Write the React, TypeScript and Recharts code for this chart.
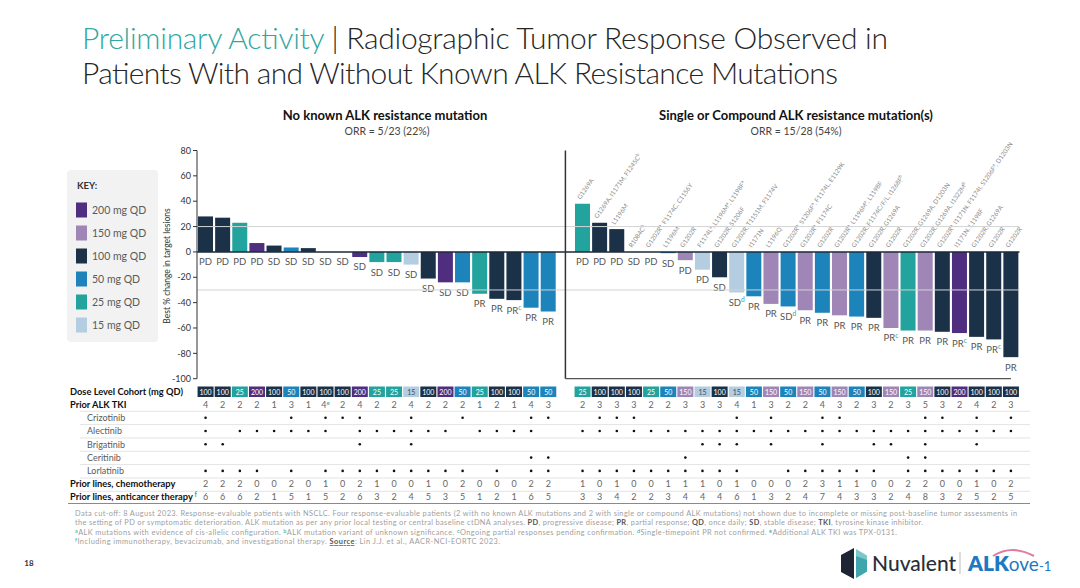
import React from "react";
import { BarChart, Bar, XAxis, YAxis, ReferenceLine, Cell } from "recharts";

if (typeof document !== "undefined") document.body.style.margin = "0";

const FONT = "Lato, 'Open Sans', sans-serif";
const TEAL = "#2fa7a2";

const doseColors: Record<number, string> = {
  200: "#4f2e80",
  150: "#a086b7",
  100: "#1b3148",
  50: "#1d83bb",
  25: "#22a39d",
  15: "#b5cde0",
};
const keyDoses = [200, 150, 100, 50, 25, 15];
const yTicks = [80, 60, 40, 20, 0, -20, -40, -60, -80, -100];
const drugNames = ["Crizotinib", "Alectinib", "Brigatinib", "Ceritinib", "Lorlatinib"];

// No known ALK resistance mutation
const leftChange = [28, 27, 23, 7, 5, 3.5, 3, 0, 0, -4, -8, -8, -10, -21, -24, -24, -33, -37, -38, -44, -47];
const leftResponse = ["PD", "PD", "PD", "PD", "SD", "SD", "SD", "SD", "SD", "SD", "SD", "SD", "SD", "SD", "SD", "SD", "PR", "PR", "PR^c", "PR", "PR"];
const leftDose = [100, 100, 25, 200, 100, 50, 100, 100, 100, 200, 25, 25, 15, 100, 200, 50, 25, 100, 100, 50, 50];
const leftPriorTki = ["4", "2", "2", "2", "1", "3", "1", "4^e", "2", "4", "2", "2", "4", "2", "2", "2", "1", "2", "1", "4", "3"];
const leftChemo = [2, 2, 2, 0, 0, 2, 0, 1, 0, 2, 1, 0, 0, 1, 0, 2, 0, 0, 0, 2, 2];
const leftAnticancer = [6, 6, 6, 2, 1, 5, 1, 5, 2, 6, 3, 2, 4, 5, 3, 5, 1, 2, 1, 6, 5];
// column indexes with a prior-TKI dot
const leftCrizotinib = [0, 5, 7, 8, 9, 12, 15, 19, 20];
const leftAlectinib = [0, 2, 3, 4, 5, 6, 7, 9, 10, 11, 12, 13, 14, 16, 17, 18, 19];
const leftBrigatinib = [0, 1, 9, 12];
const leftCeritinib = [19, 20];
const leftLorlatinib = [0, 1, 2, 3, 5, 7, 8, 9, 10, 11, 12, 13, 14, 15, 17, 19, 20];

// Single or compound ALK resistance mutation(s)
const rightChange = [38, 23, 18, 0, 0, -1, -6.5, -14, -20, -32, -35, -41, -43, -46, -48, -50, -51, -52, -60, -62, -62, -63, -64, -67, -69, -83];
const rightResponse = ["PD", "PD", "PD", "SD", "PD", "SD", "PD", "PD", "SD", "SD^d", "PR", "PR", "SD^d", "PR", "PR", "PR", "PR", "PR", "PR^c", "PR", "PR", "PR", "PR^c", "PR", "PR^c", "PR"];
const rightMutation = [
  "G1269A",
  "G1269A, I1171M, F1245C^b",
  "L1196M",
  "R1084C^b",
  "G1202R^a, F1174C, C1156Y",
  "L1196M",
  "G1202R",
  "F1174L^a, L1196M^a, L1198F^a",
  "G1202R, S1206F",
  "G1202R, T1151M, F1174V",
  "I1171N",
  "L1196Q",
  "G1202R^a, S1206F^a, F1174L, E1129K",
  "G1202R^a, F1174C",
  "G1202R",
  "G1202R^a, L1196M^a, L1198F",
  "G1202R, F1174C/F/L, I1268F^b",
  "G1202R, G1269A",
  "G1202R",
  "G1202R, G1269A, D1203N",
  "G1202R, G1269A, I1322M^b",
  "G1202R^a, I1171N, F1174I, S1206F^a, D1203N",
  "I1171N, L1198F",
  "G1202R, G1269A",
  "G1202R",
  "G1202R",
];
const rightDose = [25, 100, 100, 100, 25, 50, 150, 15, 100, 15, 50, 150, 50, 150, 50, 150, 50, 100, 150, 25, 150, 100, 200, 100, 100, 100];
const rightPriorTki = ["2", "3", "3", "3", "2", "2", "3", "3", "3", "4", "1", "3", "2", "2", "4", "3", "2", "3", "2", "3", "5", "3", "2", "4", "2", "3"];
const rightChemo = [1, 0, 1, 0, 0, 1, 1, 1, 0, 1, 0, 0, 0, 2, 3, 1, 1, 0, 0, 2, 2, 0, 0, 1, 0, 2];
const rightAnticancer = [3, 3, 4, 2, 2, 3, 4, 4, 4, 6, 1, 3, 2, 4, 7, 4, 3, 3, 2, 4, 8, 3, 2, 5, 2, 5];
const rightCrizotinib = [1, 2, 3, 9, 11, 14, 15, 20, 21, 23, 25];
const rightAlectinib = [0, 1, 2, 3, 4, 5, 6, 7, 8, 9, 10, 11, 12, 13, 14, 15, 16, 17, 18, 19, 20, 21, 22, 23, 24, 25];
const rightBrigatinib = [7, 8, 9, 11, 14, 17, 18, 20, 23];
const rightCeritinib = [6, 19, 20];
const rightLorlatinib = [0, 1, 2, 3, 4, 5, 6, 7, 8, 9, 12, 13, 14, 15, 16, 17, 19, 20, 21, 22, 23, 24, 25];

type Row = {
  id: string;
  value: number;
  dose: number;
  resp: string;
  mut: string;
  tki: string;
  chemo: number;
  anti: number;
  drugs: boolean[];
  gap?: boolean;
};

const leftDrugs = [leftCrizotinib, leftAlectinib, leftBrigatinib, leftCeritinib, leftLorlatinib];
const rightDrugs = [rightCrizotinib, rightAlectinib, rightBrigatinib, rightCeritinib, rightLorlatinib];

const data: Row[] = [
  ...leftChange.map((v, i) => ({
    id: `L${i + 1}`,
    value: v,
    dose: leftDose[i],
    resp: leftResponse[i],
    mut: "",
    tki: leftPriorTki[i],
    chemo: leftChemo[i],
    anti: leftAnticancer[i],
    drugs: leftDrugs.map((l) => l.includes(i)),
  })),
  { id: "gap", value: 0, dose: 0, resp: "", mut: "", tki: "", chemo: 0, anti: 0, drugs: [], gap: true },
  ...rightChange.map((v, i) => ({
    id: `R${i + 1}`,
    value: v,
    dose: rightDose[i],
    resp: rightResponse[i],
    mut: rightMutation[i],
    tki: rightPriorTki[i],
    chemo: rightChemo[i],
    anti: rightAnticancer[i],
    drugs: rightDrugs.map((l) => l.includes(i)),
  })),
];
const byId: Record<string, Row> = Object.fromEntries(data.map((d) => [d.id, d]));
const lastId = data[data.length - 1].id;

// "PR^c" -> PR with superscript c
function withSup(s: string, size: number, supFill: string) {
  const parts = s.split(/\^([a-z])/);
  const out: React.ReactNode[] = [];
  let raised = false;
  parts.forEach((p, i) => {
    if (i % 2 === 1) {
      out.push(
        <tspan key={i} dy={-size * 0.4} fontSize={size * 0.7} fill={supFill}>
          {p}
        </tspan>
      );
      raised = true;
    } else if (p) {
      out.push(
        <tspan key={i} dy={raised ? size * 0.4 : 0}>
          {p}
        </tspan>
      );
      raised = false;
    }
  });
  return out;
}

const BarShape = (props: any) => {
  const { x, y, width, height, fill, index } = props;
  const d: Row = props.payload && props.payload.id ? props.payload : data[index];
  if (!d || d.gap) return <g />;
  const top = Math.min(y, y + height);
  const bottom = Math.max(y, y + height);
  const cx = x + width / 2;
  return (
    <g>
      {bottom - top > 0 && <rect x={x} y={top} width={width} height={bottom - top} fill={fill} />}
      <text x={cx} y={bottom + 13.5} textAnchor="middle" fontSize={9.5} fill="#555" fontFamily={FONT}>
        {withSup(d.resp, 9.5, TEAL)}
      </text>
      {d.mut && (
        <text
          transform={`translate(${cx - 2},${top - 4}) rotate(-55)`}
          fontSize={6.3}
          fill="#8a8a8a"
          fontFamily={FONT}
        >
          {withSup(d.mut, 6.3, "#8a8a8a")}
        </text>
      )}
    </g>
  );
};

const TableTick = (props: any) => {
  const { x, y, payload } = props;
  const d = byId[payload?.value];
  if (!d || d.gap) return <g />;
  const light = d.dose === 15;
  return (
    <g fontFamily={FONT}>
      <rect x={x - 8} y={y + 7.8} width={16} height={10.5} fill={doseColors[d.dose]} />
      <text x={x} y={y + 15.8} textAnchor="middle" fontSize={7} fill={light ? "#3d4d5c" : "#fff"}>
        {d.dose}
      </text>
      <text x={x} y={y + 29.6} textAnchor="middle" fontSize={9} fill="#666">
        {withSup(d.tki, 9, TEAL)}
      </text>
      {d.drugs.map((on, k) =>
        on ? <circle key={k} cx={x} cy={y + 39 + 13.3 * k} r={1.3} fill="#111" /> : null
      )}
      <text x={x} y={y + 108.6} textAnchor="middle" fontSize={9} fill="#666">
        {d.chemo}
      </text>
      <text x={x} y={y + 121.6} textAnchor="middle" fontSize={9} fill="#666">
        {d.anti}
      </text>
    </g>
  );
};

const rowLineYs = [411.3, 424.6, 438, 451.3, 464.6, 478, 491.3];

function Slide() {
  return (
    <svg width={1080} height={588} style={{ position: "absolute", left: 0, top: 0 }} fontFamily={FONT}>
      <rect x={0} y={0} width={1080} height={588} fill="#fff" />
      {/* title */}
      <text x={82} y={49} fontSize={30} fontWeight={300} textLength={806} lengthAdjust="spacing">
        <tspan fill={TEAL}>Preliminary Activity</tspan>
        <tspan fill="#262626"> | Radiographic Tumor Response Observed in</tspan>
      </text>
      <text x={82} y={84} fontSize={30} fontWeight={300} fill="#262626" textLength={756} lengthAdjust="spacing">
        Patients With and Without Known ALK Resistance Mutations
      </text>

      {/* panel headings */}
      <text x={385} y={119.5} textAnchor="middle" fontSize={13} fontWeight={700} fill="#111">
        No known ALK resistance mutation
      </text>
      <text x={387} y={135} textAnchor="middle" fontSize={10.5} fill="#444">
        ORR = 5/23 (22%)
      </text>
      <text x={796} y={119.5} textAnchor="middle" fontSize={13} fontWeight={700} fill="#111">
        Single or Compound ALK resistance mutation(s)
      </text>
      <text x={796} y={135} textAnchor="middle" fontSize={10.5} fill="#444">
        ORR = 15/28 (54%)
      </text>

      {/* key */}
      <rect x={67} y={170} width={91} height={172} rx={4} fill="#f2f2f2" />
      <text x={77} y={189} fontSize={9.5} fontWeight={700} fill="#333">
        KEY:
      </text>
      {keyDoses.map((d, k) => (
        <g key={d}>
          <rect x={76} y={202.5 + 23 * k} width={11} height={15} fill={doseColors[d]} />
          <text x={92} y={213.5 + 23 * k} fontSize={10.5} fill="#5a5a5a">
            {d} mg QD
          </text>
        </g>
      ))}

      {/* y axis title */}
      <text transform="translate(170,266) rotate(-90)" textAnchor="middle" fontSize={8.5} fill="#333">
        Best % change in target lesions
      </text>

      {/* table row labels */}
      {rowLineYs.map((ly) => (
        <line key={ly} x1={80} x2={1030} y1={ly} y2={ly} stroke="#dcdcdc" strokeWidth={0.8} />
      ))}
      <line x1={68} x2={1030} y1={503.5} y2={503.5} stroke="#8a8a8a" strokeWidth={1.2} />
      <text x={70} y={394.8} fontSize={9.3} fontWeight={700} fill="#111">
        Dose Level Cohort (mg QD)
      </text>
      <text x={70} y={408.2} fontSize={9.3} fontWeight={700} fill="#111">
        Prior ALK TKI
      </text>
      {drugNames.map((n, k) => (
        <text key={n} x={87} y={420.9 + 13.3 * k} fontSize={9} fill="#5a5a5a">
          {n}
        </text>
      ))}
      <text x={70} y={487.2} fontSize={9.3} fontWeight={700} fill="#111">
        Prior lines, chemotherapy
      </text>
      <text x={70} y={500.3} fontSize={9.3} fontWeight={700} fill="#111">
        Prior lines, anticancer therapy
        <tspan dy={-3.5} fontSize={6.5} fill={TEAL}>
          {" f"}
        </tspan>
      </text>

      {/* footnotes */}
      <g fontSize={7.4} fill="#a0a0a0">
        <text x={75} y={515.5} textLength={942} lengthAdjust="spacing">
          Data cut-off: 8 August 2023. Response-evaluable patients with NSCLC. Four response-evaluable patients (2 with no known ALK mutations and 2 with single or compound ALK mutations) not shown due to incomplete or missing post-baseline tumor assessments in
        </text>
        <text x={75} y={525} textLength={848} lengthAdjust="spacing">
          the setting of PD or symptomatic deterioration. ALK mutation as per any prior local testing or central baseline ctDNA analyses.{" "}
          <tspan fontWeight={700} fill="#555">PD</tspan>, progressive disease;{" "}
          <tspan fontWeight={700} fill="#555">PR</tspan>, partial response;{" "}
          <tspan fontWeight={700} fill="#555">QD</tspan>, once daily;{" "}
          <tspan fontWeight={700} fill="#555">SD</tspan>, stable disease;{" "}
          <tspan fontWeight={700} fill="#555">TKI</tspan>, tyrosine kinase inhibitor.
        </text>
        <text x={75} y={534.5} textLength={822} lengthAdjust="spacing">
          <tspan fill={TEAL} fontSize={5.5} dy={-2}>a</tspan>
          <tspan dy={2}>ALK mutations with evidence of cis-allelic configuration. </tspan>
          <tspan fill={TEAL} fontSize={5.5} dy={-2}>b</tspan>
          <tspan dy={2}>ALK mutation variant of unknown significance. </tspan>
          <tspan fill={TEAL} fontSize={5.5} dy={-2}>c</tspan>
          <tspan dy={2}>Ongoing partial responses pending confirmation. </tspan>
          <tspan fill={TEAL} fontSize={5.5} dy={-2}>d</tspan>
          <tspan dy={2}>Single-timepoint PR not confirmed. </tspan>
          <tspan fill={TEAL} fontSize={5.5} dy={-2}>e</tspan>
          <tspan dy={2}>Additional ALK TKI was TPX-0131.</tspan>
        </text>
        <text x={75} y={544} textLength={425} lengthAdjust="spacing">
          <tspan fill={TEAL} fontSize={5.5} dy={-2}>f</tspan>
          <tspan dy={2}>Including immunotherapy, bevacizumab, and investigational therapy. </tspan>
          <tspan fontWeight={700} fill="#555" textDecoration="underline">Source</tspan>
          <tspan>: Lin J.J. et al., AACR-NCI-EORTC 2023.</tspan>
        </text>
      </g>

      {/* page number */}
      <text x={29} y={566} textAnchor="middle" fontSize={8} fontWeight={700} fill="#333">
        18
      </text>

      {/* logo */}
      <polygon points="854,548 841,555 841,572 854,579" fill="#1d2433" />
      <polygon points="856,549 867,555.5 867,571.5 856,578" fill="#7cc7c9" />
      <polygon points="856,556 867,560 867,571.5 856,578" fill="#3fa6ad" />
      <text x={872} y={571} fontSize={21} fontWeight={500} fill="#2a2f3a">
        Nuvalent
      </text>
      <line x1={960} x2={960} y1={552} y2={574} stroke="#bbb" strokeWidth={1} />
      <path d="M993,556 Q1012,544 1034,556" fill="none" stroke="#e37aa0" strokeWidth={2} />
      <text x={968} y={571} fill="#1f78c1">
        <tspan fontSize={21} fontWeight={800}>ALK</tspan>
        <tspan fontSize={19}>ove</tspan>
        <tspan fontSize={13}>-1</tspan>
      </text>
    </svg>
  );
}

export default function App() {
  return (
    <div style={{ position: "relative", width: 1080, height: 588, background: "#fff", overflow: "hidden" }}>
      <Slide />
      <div style={{ position: "absolute", left: 0, top: 0 }}>
        <BarChart
          width={1080}
          height={588}
          data={data}
          margin={{ top: 150.5, right: 60.5, left: 0, bottom: 84.3 }}
          barCategoryGap={0}
        >
          <XAxis
            dataKey="id"
            type="category"
            interval={0}
            height={125}
            axisLine={false}
            tickLine={false}
            tickSize={0}
            tickMargin={0}
            tick={<TableTick />}
          />
          <YAxis
            type="number"
            domain={[-100, 80]}
            ticks={yTicks}
            interval={0}
            width={197}
            axisLine={{ stroke: "#333" }}
            tickLine={{ stroke: "#333" }}
            tickSize={4}
            tick={{ fontSize: 9, fill: "#333", fontFamily: FONT }}
          />
          <ReferenceLine y={20} stroke="#d4d4d4" strokeWidth={1} />
          <ReferenceLine y={-30} stroke="#d4d4d4" strokeWidth={1} />
          <Bar dataKey="value" barSize={15} isAnimationActive={false} shape={BarShape}>
            {data.map((d) => (
              <Cell key={d.id} fill={d.gap ? "none" : doseColors[d.dose]} />
            ))}
          </Bar>
          <ReferenceLine y={0} stroke="#1b2a3a" strokeWidth={1.5} />
          <ReferenceLine x="gap" stroke="#333" strokeWidth={1.5} />
          <ReferenceLine
            segment={[
              { x: "gap", y: -100 },
              { x: lastId, y: -100 },
            ]}
            stroke="#555"
            strokeWidth={1.2}
          />
        </BarChart>
      </div>
    </div>
  );
}
